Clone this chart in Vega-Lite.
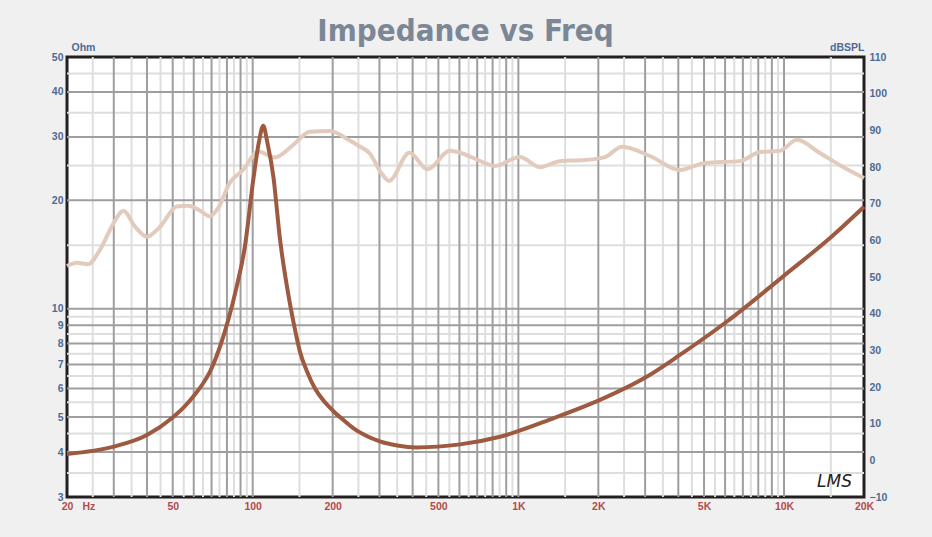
{
  "$schema": "https://vega.github.io/schema/vega-lite/v6.json",
  "width": 797,
  "height": 440,
  "autosize": "none",
  "padding": {"left": 67, "top": 57, "right": 68, "bottom": 40},
  "background": "#f0f0f0",
  "title": {
    "text": "Impedance vs Freq",
    "font": "DejaVu Sans Condensed, Liberation Sans",
    "fontSize": 31,
    "fontWeight": "bold",
    "color": "#7b8796",
    "anchor": "middle",
    "frame": "group",
    "baseline": "alphabetic",
    "offset": -30
  },
  "config": {
    "view": {"fill": "white", "stroke": "#231f20", "strokeWidth": 3},
    "axis": {
      "domain": false, "ticks": false, "tickSize": 0, "grid": false,
      "labelFont": "Liberation Sans", "labelFontWeight": "bold", "labelFontSize": 10.5,
      "titleFont": "Liberation Sans", "titleFontWeight": "bold", "titleFontSize": 10.5,
      "labelOverlap": false, "labelFlush": false
    }
  },
  "datasets": {
    "imp": [
      {"f": 20, "ohm": 3.95}, {"f": 30, "ohm": 4.14}, {"f": 40, "ohm": 4.46}, {"f": 50, "ohm": 4.99},
      {"f": 55, "ohm": 5.32}, {"f": 60.6, "ohm": 5.78}, {"f": 65, "ohm": 6.2}, {"f": 69, "ohm": 6.68}, {"f": 75.3, "ohm": 7.84}, {"f": 80.9, "ohm": 9.3},
      {"f": 87, "ohm": 11.5}, {"f": 93.5, "ohm": 14.9}, {"f": 100.5, "ohm": 22.8}, {"f": 105.5, "ohm": 29},
      {"f": 109.6, "ohm": 32.2}, {"f": 113.5, "ohm": 29}, {"f": 119.6, "ohm": 23.3}, {"f": 126.7, "ohm": 15.6},
      {"f": 138.2, "ohm": 10.3}, {"f": 145, "ohm": 8.6}, {"f": 150.6, "ohm": 7.6}, {"f": 160, "ohm": 6.7},
      {"f": 171.6, "ohm": 6.0}, {"f": 185, "ohm": 5.55}, {"f": 201, "ohm": 5.2}, {"f": 220, "ohm": 4.9},
      {"f": 239, "ohm": 4.66}, {"f": 265, "ohm": 4.45}, {"f": 301, "ohm": 4.28}, {"f": 350, "ohm": 4.17},
      {"f": 414, "ohm": 4.12}, {"f": 603, "ohm": 4.2},
      {"f": 853, "ohm": 4.41}, {"f": 1353, "ohm": 4.96}, {"f": 2028, "ohm": 5.58}, {"f": 3040, "ohm": 6.47},
      {"f": 4055, "ohm": 7.44}, {"f": 6080, "ohm": 9.2}, {"f": 9930, "ohm": 12.3}, {"f": 15310, "ohm": 16.0},
      {"f": 20000, "ohm": 19.2}
    ],
    "spl": [
      {"f": 20, "db": 53.0}, {"f": 21.8, "db": 53.9}, {"f": 24, "db": 53.5}, {"f": 26.6, "db": 57.4},
      {"f": 29.9, "db": 64.6}, {"f": 32.6, "db": 68.1}, {"f": 36.1, "db": 63.7}, {"f": 40, "db": 61.0},
      {"f": 44.8, "db": 63.7}, {"f": 51.8, "db": 69.2}, {"f": 57.2, "db": 69.4}, {"f": 63, "db": 68.2},
      {"f": 69, "db": 66.6}, {"f": 74, "db": 68.7}, {"f": 82, "db": 75.7}, {"f": 92, "db": 79.2},
      {"f": 105, "db": 84.2}, {"f": 121, "db": 82.6}, {"f": 142, "db": 86.0}, {"f": 164, "db": 89.6},
      {"f": 195, "db": 89.8}, {"f": 232, "db": 87.2}, {"f": 250, "db": 85.8}, {"f": 276, "db": 83.7},
      {"f": 305, "db": 78.3}, {"f": 326, "db": 76.2}, {"f": 389, "db": 83.9}, {"f": 455, "db": 79.4},
      {"f": 553, "db": 84.4}, {"f": 603, "db": 83.9}, {"f": 705, "db": 81.9}, {"f": 816, "db": 80.3},
      {"f": 1014, "db": 82.7}, {"f": 1206, "db": 80.0}, {"f": 1434, "db": 81.6}, {"f": 1781, "db": 81.9},
      {"f": 2117, "db": 82.7}, {"f": 2455, "db": 85.5}, {"f": 3128, "db": 83.0}, {"f": 4055, "db": 79.2},
      {"f": 5038, "db": 81.1}, {"f": 6825, "db": 81.6}, {"f": 8110, "db": 84.1}, {"f": 9650, "db": 84.4},
      {"f": 11180, "db": 87.4}, {"f": 13650, "db": 83.8}, {"f": 16230, "db": 80.5}, {"f": 20000, "db": 77.0}
    ],
    "xminor": [
      {"f": 25}, {"f": 35}, {"f": 45}, {"f": 55}, {"f": 65}, {"f": 75}, {"f": 85}, {"f": 95},
      {"f": 150}, {"f": 250}, {"f": 350}, {"f": 450}, {"f": 550}, {"f": 650}, {"f": 750}, {"f": 850}, {"f": 950},
      {"f": 1500}, {"f": 2500}, {"f": 3500}, {"f": 4500}, {"f": 5500}, {"f": 6500}, {"f": 7500}, {"f": 8500}, {"f": 9500},
      {"f": 15000}
    ],
    "xmajor": [
      {"f": 30}, {"f": 40}, {"f": 50}, {"f": 60}, {"f": 70}, {"f": 80}, {"f": 90}, {"f": 100},
      {"f": 200}, {"f": 300}, {"f": 400}, {"f": 500}, {"f": 600}, {"f": 700}, {"f": 800}, {"f": 900}, {"f": 1000},
      {"f": 2000}, {"f": 3000}, {"f": 4000}, {"f": 5000}, {"f": 6000}, {"f": 7000}, {"f": 8000}, {"f": 9000}, {"f": 10000}
    ],
    "yminor": [
      {"ohm": 3.5}, {"ohm": 4.5}, {"ohm": 5.5}, {"ohm": 6.5}, {"ohm": 7.5}, {"ohm": 8.5}, {"ohm": 9.5},
      {"ohm": 15}, {"ohm": 25}, {"ohm": 35}, {"ohm": 45}
    ],
    "ymajor": [
      {"ohm": 4}, {"ohm": 5}, {"ohm": 6}, {"ohm": 7}, {"ohm": 8}, {"ohm": 9}, {"ohm": 10},
      {"ohm": 20}, {"ohm": 30}, {"ohm": 40}
    ],
    "sig": [{"f": 15500, "ohm": 3.3, "label": "LMS"}]
  },
  "layer": [
    {
      "layer": [
        {
          "data": {"name": "xminor"},
          "mark": {"type": "rule", "color": "#dedede", "strokeWidth": 2},
          "encoding": {"x": {"field": "f", "type": "quantitative", "scale": {"type": "log", "domain": [20, 20000], "nice": false}}}
        },
        {
          "data": {"name": "yminor"},
          "mark": {"type": "rule", "color": "#dedede", "strokeWidth": 2},
          "encoding": {"y": {"field": "ohm", "type": "quantitative", "scale": {"type": "log", "domain": [3, 50], "nice": false}, "axis": null}}
        },
        {
          "data": {"name": "xmajor"},
          "mark": {"type": "rule", "color": "#9e9e9e", "strokeWidth": 2},
          "encoding": {"x": {"field": "f", "type": "quantitative"}}
        },
        {
          "data": {"name": "ymajor"},
          "mark": {"type": "rule", "color": "#9e9e9e", "strokeWidth": 2},
          "encoding": {"y": {"field": "ohm", "type": "quantitative", "axis": null}}
        }
      ]
    },
    {
      "data": {"name": "spl"},
      "mark": {"type": "line", "color": "#e2cbbd", "strokeWidth": 4, "interpolate": "monotone"},
      "encoding": {
        "x": {"field": "f", "type": "quantitative"},
        "y": {
          "field": "db", "type": "quantitative",
          "scale": {"domain": [-10, 110], "nice": false, "zero": false},
          "axis": {
            "orient": "right", "values": [-10, 0, 10, 20, 30, 40, 50, 60, 70, 80, 90, 100, 110],
            "labelColor": "#4e6b94", "labelPadding": 5, "labelAlign": "left",
            "title": "dBSPL", "titleColor": "#4e6b94", "titleAngle": 0, "titleX": 0, "titleY": -5,
            "titleAlign": "right", "titleBaseline": "bottom"
          }
        }
      }
    },
    {
      "layer": [
        {
          "data": {"name": "imp"},
          "mark": {"type": "line", "color": "#9d5a40", "strokeWidth": 4, "interpolate": "monotone"},
          "encoding": {
            "x": {
              "field": "f", "type": "quantitative",
              "scale": {"type": "log", "domain": [20, 20000], "nice": false},
              "axis": {
                "values": [20, 50, 100, 200, 500, 1000, 2000, 5000, 10000, 20000],
                "labelExpr": "datum.value >= 1000 ? format(datum.value / 1000, 'd') + 'K' : format(datum.value, 'd')",
                "labelColor": "#b04c4a", "labelPadding": 4,
                "title": "Hz", "titleColor": "#b04c4a", "titleX": 15, "titleY": 4,
                "titleAlign": "left", "titleBaseline": "top"
              }
            },
            "y": {
              "field": "ohm", "type": "quantitative",
              "scale": {"type": "log", "domain": [3, 50], "nice": false},
              "axis": {
                "orient": "left", "values": [3, 4, 5, 6, 7, 8, 9, 10, 20, 30, 40, 50], "format": "d",
                "labelColor": "#4e6b94", "labelPadding": 4,
                "title": "Ohm", "titleColor": "#4e6b94", "titleAngle": 0, "titleX": 4, "titleY": -5,
                "titleAlign": "left", "titleBaseline": "bottom"
              }
            }
          }
        },
        {
          "data": {"name": "sig"},
          "mark": {"type": "text", "font": "DejaVu Sans", "fontStyle": "italic", "fontSize": 17, "color": "#222222"},
          "encoding": {
            "x": {"field": "f", "type": "quantitative"},
            "y": {"field": "ohm", "type": "quantitative"},
            "text": {"field": "label"}
          }
        }
      ]
    }
  ],
  "resolve": {"scale": {"y": "independent"}, "axis": {"y": "independent"}}
}
